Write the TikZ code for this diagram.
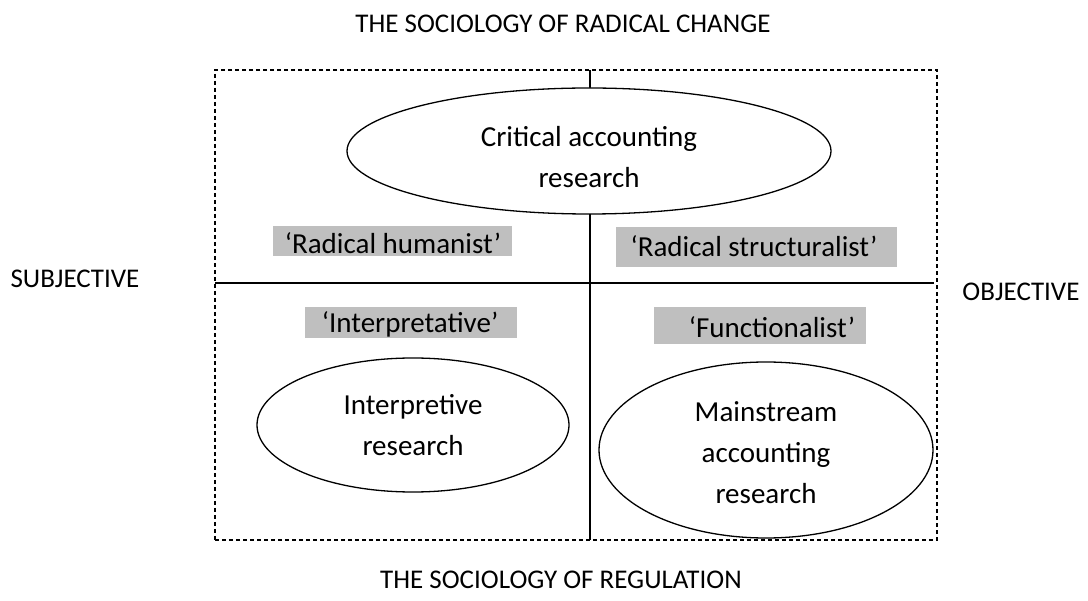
\documentclass[tikz,border=0pt]{standalone}
\usepackage{fontspec}
\setmainfont{Carlito}
\usetikzlibrary{shapes.geometric}
\definecolor{boxgray}{RGB}{191,191,191}
\tikzset{
  edgeline/.style={line width=1.3pt},
  oval/.style={draw, ellipse, fill=white, line width=1.3pt, inner sep=0pt, align=center,
    font=\fontsize{29}{41}\selectfont},
  ovaltext/.style={inner sep=0pt, align=center, font=\fontsize{29}{41}\selectfont},
  tag/.style={fill=boxgray, inner sep=0pt},
  tagtext/.style={inner sep=0pt, font=\fontsize{29}{33}\selectfont},
  axis/.style={inner sep=0pt, font=\fontsize{27}{31}\selectfont}
}
\begin{document}
\begin{tikzpicture}[x=1pt,y=-1pt]
\useasboundingbox (0,0) rectangle (1088,601);
% frame
\node[draw, dash pattern=on 4pt off 3pt, line width=1.4pt, minimum width=722pt, minimum height=470pt, inner sep=0pt] (frame) at (576,305) {};
\coordinate (vtop) at (590,70);
\coordinate (vbot) at (590,540);
\coordinate (hleft) at (215,283);
\coordinate (hright) at (934,283);
\draw[edgeline] (vtop) -- (vbot);
\draw[edgeline] (hleft) -- (hright);
% ellipses
\node[oval, minimum width=484pt, minimum height=126pt] (crit) at (589,151) {};
\node[ovaltext] (critt) at (589,157) {Critical accounting\\research};
\node[oval, minimum width=312pt, minimum height=134pt] (interp) at (413,425) {Interpretive\\research};
\node[oval, minimum width=334pt, minimum height=176pt] (main) at (766,450) {};
\node[ovaltext] (maint) at (766,453) {Mainstream\\accounting\\research};
% grey tags
\node[tag, minimum width=239pt, minimum height=30pt] (hum) at (392.5,241) {};
\node[tagtext] (humt) at (393,243) {‘Radical humanist’};
\node[tag, minimum width=281pt, minimum height=40pt] (str) at (756.5,247) {};
\node[tagtext] (strt) at (754,246) {‘Radical structuralist’};
\node[tag, minimum width=212pt, minimum height=31pt] (int) at (411,322.5) {};
\node[tagtext] (intt) at (410,324) {‘Interpretative’};
\node[tag, minimum width=212pt, minimum height=37pt] (fun) at (760,325.5) {};
\node[tagtext] (funt) at (772,327) {‘Functionalist’};
% axis labels
\node[axis] (top) at (563,24) {THE SOCIOLOGY OF RADICAL CHANGE};
\node[axis] (bot) at (561,580) {THE SOCIOLOGY OF REGULATION};
\node[axis] (subj) at (75,279) {SUBJECTIVE};
\node[axis] (obj) at (1021,292) {OBJECTIVE};
\end{tikzpicture}
\end{document}
